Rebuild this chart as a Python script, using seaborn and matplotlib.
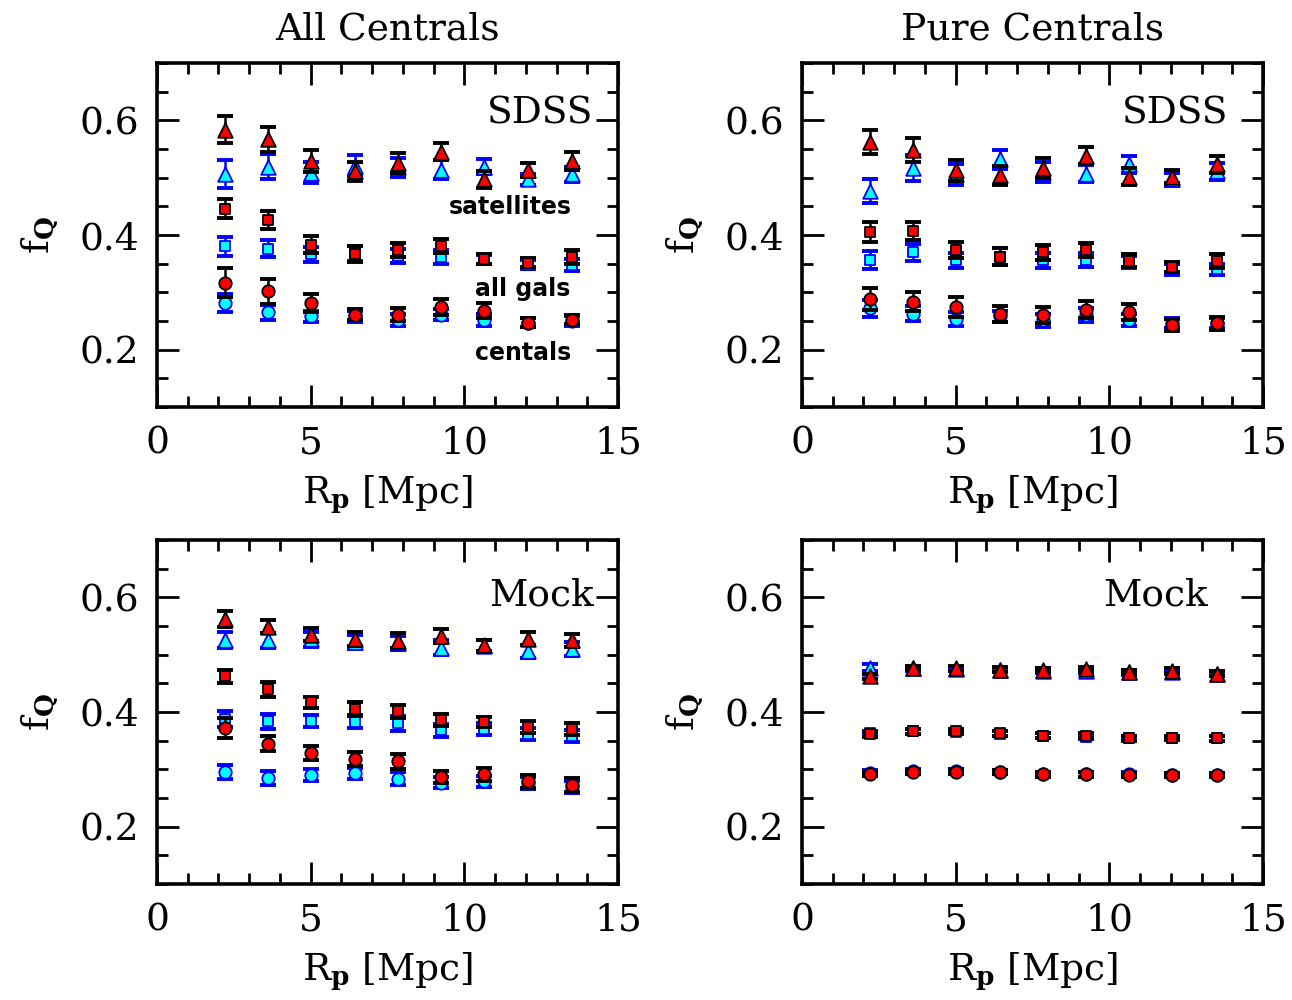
import numpy as np
import pandas as pd
import matplotlib
matplotlib.use("Agg")
import matplotlib.pyplot as plt
from matplotlib.ticker import MultipleLocator
import seaborn as sns

# projected separation bins (Mpc)
rp = [2.2, 3.6, 5.0, 6.45, 7.85, 9.25, 10.65, 12.05, 13.5]

# --- All Centrals, SDSS ---
ac_sdss_sat_red = [0.584, 0.567, 0.529, 0.511, 0.526, 0.545, 0.497, 0.514, 0.529]
ac_sdss_sat_red_err = [0.024, 0.022, 0.019, 0.017, 0.017, 0.015, 0.015, 0.012, 0.015]
ac_sdss_sat_cyan = [0.506, 0.519, 0.509, 0.521, 0.518, 0.514, 0.519, 0.497, 0.506]
ac_sdss_sat_cyan_err = [0.024, 0.022, 0.019, 0.018, 0.017, 0.016, 0.013, 0.010, 0.013]
ac_sdss_all_red = [0.446, 0.426, 0.383, 0.367, 0.374, 0.381, 0.358, 0.352, 0.362]
ac_sdss_all_red_err = [0.017, 0.016, 0.015, 0.014, 0.012, 0.012, 0.008, 0.008, 0.012]
ac_sdss_all_cyan = [0.380, 0.376, 0.366, 0.368, 0.363, 0.362, 0.357, 0.348, 0.348]
ac_sdss_all_cyan_err = [0.017, 0.015, 0.013, 0.013, 0.012, 0.012, 0.008, 0.008, 0.010]
ac_sdss_cen_red = [0.317, 0.302, 0.281, 0.261, 0.261, 0.275, 0.268, 0.247, 0.252]
ac_sdss_cen_red_err = [0.025, 0.022, 0.016, 0.010, 0.011, 0.014, 0.013, 0.008, 0.008]
ac_sdss_cen_cyan = [0.281, 0.265, 0.258, 0.258, 0.252, 0.261, 0.252, 0.247, 0.250]
ac_sdss_cen_cyan_err = [0.016, 0.013, 0.010, 0.010, 0.010, 0.010, 0.010, 0.008, 0.008]

# --- Pure Centrals, SDSS ---
pc_sdss_sat_red = [0.562, 0.548, 0.513, 0.504, 0.517, 0.538, 0.502, 0.502, 0.523]
pc_sdss_sat_red_err = [0.021, 0.021, 0.018, 0.017, 0.018, 0.015, 0.014, 0.011, 0.015]
pc_sdss_sat_cyan = [0.476, 0.517, 0.506, 0.532, 0.510, 0.507, 0.523, 0.497, 0.511]
pc_sdss_sat_cyan_err = [0.021, 0.022, 0.018, 0.017, 0.017, 0.015, 0.015, 0.012, 0.015]
pc_sdss_all_red = [0.405, 0.407, 0.374, 0.362, 0.370, 0.374, 0.355, 0.344, 0.355]
pc_sdss_all_red_err = [0.017, 0.016, 0.014, 0.015, 0.013, 0.012, 0.011, 0.009, 0.012]
pc_sdss_all_cyan = [0.356, 0.370, 0.356, 0.362, 0.356, 0.357, 0.353, 0.340, 0.340]
pc_sdss_all_cyan_err = [0.016, 0.015, 0.013, 0.015, 0.013, 0.012, 0.010, 0.009, 0.010]
pc_sdss_cen_red = [0.288, 0.284, 0.274, 0.263, 0.261, 0.270, 0.265, 0.243, 0.246]
pc_sdss_cen_red_err = [0.019, 0.017, 0.017, 0.014, 0.014, 0.015, 0.014, 0.010, 0.011]
pc_sdss_cen_cyan = [0.272, 0.263, 0.253, 0.258, 0.251, 0.261, 0.252, 0.246, 0.246]
pc_sdss_cen_cyan_err = [0.015, 0.013, 0.012, 0.010, 0.012, 0.012, 0.011, 0.009, 0.009]

# --- All Centrals, Mock ---
ac_mock_sat_red = [0.562, 0.549, 0.535, 0.527, 0.524, 0.532, 0.516, 0.528, 0.525]
ac_mock_sat_red_err = [0.014, 0.012, 0.011, 0.012, 0.013, 0.012, 0.010, 0.011, 0.011]
ac_mock_sat_cyan = [0.525, 0.525, 0.527, 0.522, 0.520, 0.512, 0.515, 0.506, 0.510]
ac_mock_sat_cyan_err = [0.014, 0.013, 0.013, 0.012, 0.012, 0.013, 0.010, 0.011, 0.012]
ac_mock_all_red = [0.462, 0.440, 0.417, 0.405, 0.401, 0.386, 0.383, 0.374, 0.370]
ac_mock_all_red_err = [0.012, 0.013, 0.010, 0.012, 0.011, 0.010, 0.009, 0.010, 0.010]
ac_mock_all_cyan = [0.388, 0.384, 0.384, 0.383, 0.380, 0.368, 0.370, 0.362, 0.358]
ac_mock_all_cyan_err = [0.014, 0.013, 0.011, 0.011, 0.013, 0.011, 0.010, 0.010, 0.010]
ac_mock_cen_red = [0.372, 0.345, 0.328, 0.318, 0.314, 0.287, 0.291, 0.279, 0.273]
ac_mock_cen_red_err = [0.018, 0.013, 0.012, 0.012, 0.013, 0.010, 0.012, 0.011, 0.012]
ac_mock_cen_cyan = [0.296, 0.285, 0.290, 0.293, 0.284, 0.277, 0.279, 0.276, 0.269]
ac_mock_cen_cyan_err = [0.012, 0.012, 0.010, 0.010, 0.011, 0.010, 0.010, 0.010, 0.010]

# --- Pure Centrals, Mock ---
pc_mock_sat_red = [0.462, 0.477, 0.476, 0.474, 0.473, 0.475, 0.470, 0.472, 0.467]
pc_mock_sat_red_err = [0.005, 0.004, 0.004, 0.004, 0.004, 0.004, 0.004, 0.004, 0.004]
pc_mock_sat_cyan = [0.477, 0.476, 0.475, 0.473, 0.472, 0.472, 0.469, 0.470, 0.466]
pc_mock_sat_cyan_err = [0.006, 0.004, 0.004, 0.004, 0.004, 0.004, 0.004, 0.004, 0.004]
pc_mock_all_red = [0.361, 0.366, 0.367, 0.363, 0.359, 0.359, 0.354, 0.355, 0.354]
pc_mock_all_red_err = [0.004, 0.004, 0.004, 0.004, 0.004, 0.004, 0.004, 0.004, 0.004]
pc_mock_all_cyan = [0.363, 0.366, 0.365, 0.362, 0.359, 0.357, 0.355, 0.355, 0.354]
pc_mock_all_cyan_err = [0.004, 0.004, 0.004, 0.004, 0.004, 0.004, 0.004, 0.004, 0.004]
pc_mock_cen_red = [0.292, 0.295, 0.296, 0.295, 0.291, 0.291, 0.290, 0.290, 0.290]
pc_mock_cen_red_err = [0.004, 0.004, 0.004, 0.004, 0.004, 0.004, 0.004, 0.004, 0.004]
pc_mock_cen_cyan = [0.294, 0.297, 0.297, 0.295, 0.292, 0.291, 0.291, 0.290, 0.290]
pc_mock_cen_cyan_err = [0.004, 0.004, 0.004, 0.004, 0.004, 0.004, 0.004, 0.004, 0.004]

panels = {
    "ac_sdss": {
        "sat": (ac_sdss_sat_red, ac_sdss_sat_red_err, ac_sdss_sat_cyan, ac_sdss_sat_cyan_err),
        "all": (ac_sdss_all_red, ac_sdss_all_red_err, ac_sdss_all_cyan, ac_sdss_all_cyan_err),
        "cen": (ac_sdss_cen_red, ac_sdss_cen_red_err, ac_sdss_cen_cyan, ac_sdss_cen_cyan_err),
    },
    "pc_sdss": {
        "sat": (pc_sdss_sat_red, pc_sdss_sat_red_err, pc_sdss_sat_cyan, pc_sdss_sat_cyan_err),
        "all": (pc_sdss_all_red, pc_sdss_all_red_err, pc_sdss_all_cyan, pc_sdss_all_cyan_err),
        "cen": (pc_sdss_cen_red, pc_sdss_cen_red_err, pc_sdss_cen_cyan, pc_sdss_cen_cyan_err),
    },
    "ac_mock": {
        "sat": (ac_mock_sat_red, ac_mock_sat_red_err, ac_mock_sat_cyan, ac_mock_sat_cyan_err),
        "all": (ac_mock_all_red, ac_mock_all_red_err, ac_mock_all_cyan, ac_mock_all_cyan_err),
        "cen": (ac_mock_cen_red, ac_mock_cen_red_err, ac_mock_cen_cyan, ac_mock_cen_cyan_err),
    },
    "pc_mock": {
        "sat": (pc_mock_sat_red, pc_mock_sat_red_err, pc_mock_sat_cyan, pc_mock_sat_cyan_err),
        "all": (pc_mock_all_red, pc_mock_all_red_err, pc_mock_all_cyan, pc_mock_all_cyan_err),
        "cen": (pc_mock_cen_red, pc_mock_cen_red_err, pc_mock_cen_cyan, pc_mock_cen_cyan_err),
    },
}

# long table for seaborn
rows = []
for pname, kinds in panels.items():
    for kind, (red, red_e, cyan, cyan_e) in kinds.items():
        for i in range(len(rp)):
            rows.append((pname, kind, "cyan", rp[i], cyan[i], cyan_e[i]))
            rows.append((pname, kind, "red", rp[i], red[i], red_e[i]))
df = pd.DataFrame(rows, columns=["panel", "kind", "col", "rp", "fq", "err"])

sns.set_style("ticks")
plt.rcParams["font.family"] = ["DejaVu Serif"]
plt.rcParams["mathtext.fontset"] = "dejavuserif"
plt.rcParams["text.color"] = "black"
plt.rcParams["axes.labelcolor"] = "black"
plt.rcParams["xtick.color"] = "black"
plt.rcParams["ytick.color"] = "black"

fig = plt.figure(figsize=(12.92, 10), dpi=100)
W, H = 0.357, 0.344
axes = {
    "ac_sdss": fig.add_axes([0.1215, 0.593, W, H]),
    "pc_sdss": fig.add_axes([0.6207, 0.593, W, H]),
    "ac_mock": fig.add_axes([0.1215, 0.116, W, H]),
    "pc_mock": fig.add_axes([0.6207, 0.116, W, H]),
}

markers = {"cen": ("o", 80), "all": ("s", 48), "sat": ("^", 110)}
styles = {"cyan": ("#00ffff", "#0000ff", 2), "red": ("#ff0000", "black", 4)}

for pname, ax in axes.items():
    sub = df[df.panel == pname]
    for kind in ["cen", "all", "sat"]:
        mk, sz = markers[kind]
        for col in ["cyan", "red"]:
            face, edge, z = styles[col]
            d = sub[(sub.kind == kind) & (sub.col == col)]
            ax.errorbar(d.rp, d.fq, yerr=d.err, fmt="none", ecolor=edge,
                        elinewidth=1.8, capsize=6, capthick=2.8, zorder=z)
            sns.scatterplot(data=d, x="rp", y="fq", marker=mk, s=sz, color=face,
                            edgecolor=edge, linewidth=1.3, ax=ax, legend=False,
                            zorder=z + 1)

    ax.set_xlim(0, 15)
    ax.set_ylim(0.1, 0.7)
    ax.xaxis.set_major_locator(MultipleLocator(5))
    ax.xaxis.set_minor_locator(MultipleLocator(1))
    ax.yaxis.set_minor_locator(MultipleLocator(0.05))
    ax.set_yticks([0.2, 0.4, 0.6])
    ax.set_yticklabels(["0.2", "0.4", "0.6"])
    ax.tick_params(which="both", direction="in", top=True, right=True,
                   width=2, labelsize=27)
    ax.tick_params(which="major", length=16, pad=13)
    ax.tick_params(which="minor", length=8)
    for s in ax.spines.values():
        s.set_linewidth(2.6)
        s.set_color("black")
    ax.set_xlabel(r"R$_\mathbf{p}$ [Mpc]", fontsize=27, labelpad=9)
    ax.set_ylabel(r"f$_\mathbf{Q}$", fontsize=27, labelpad=14)

axes["ac_sdss"].set_title("All Centrals", fontsize=27, pad=17)
axes["pc_sdss"].set_title("Pure Centrals", fontsize=27, pad=17)

axes["ac_sdss"].text(14.2, 0.612, "SDSS", fontsize=27, ha="right", va="center")
axes["pc_sdss"].text(13.85, 0.612, "SDSS", fontsize=27, ha="right", va="center")
axes["ac_mock"].text(14.2, 0.604, "Mock", fontsize=27, ha="right", va="center")
axes["pc_mock"].text(13.2, 0.604, "Mock", fontsize=27, ha="right", va="center")

lab = dict(fontsize=17, fontweight="bold", ha="center", va="center",
           family=["DejaVu Sans"])
axes["ac_sdss"].text(11.5, 0.448, "satellites", **lab)
axes["ac_sdss"].text(11.9, 0.306, "all gals", **lab)
axes["ac_sdss"].text(11.9, 0.194, "centals", **lab)

fig.savefig("out.png", dpi=100)
